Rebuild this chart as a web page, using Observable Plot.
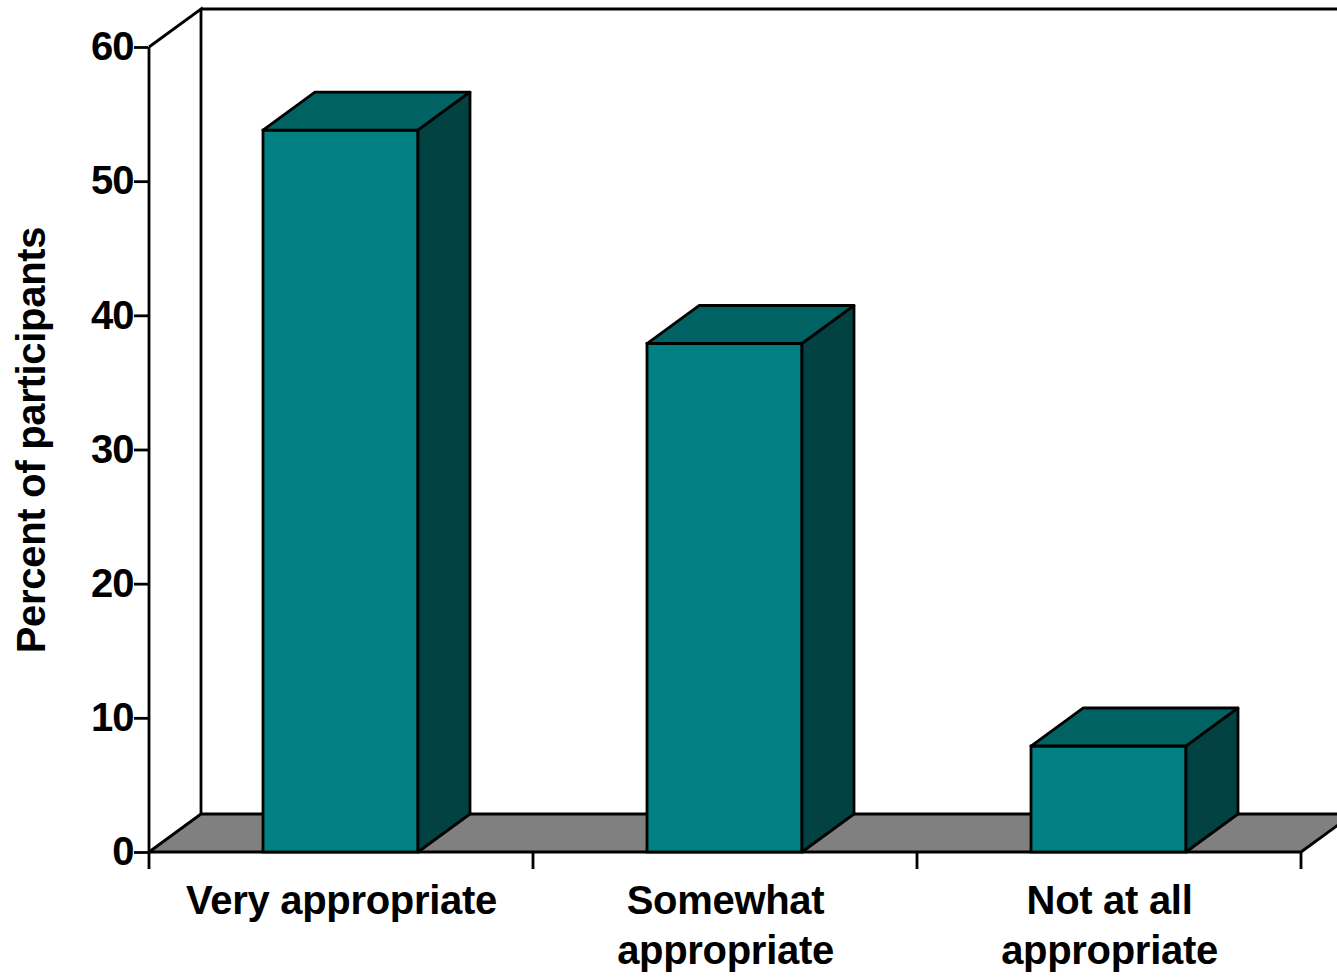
<!DOCTYPE html>
<html><head><meta charset="utf-8">
<script src="https://cdn.jsdelivr.net/npm/d3@7"></script>
<script src="https://cdn.jsdelivr.net/npm/@observablehq/plot@0.6"></script>
<style>
html,body{margin:0;padding:0;background:#fff;overflow:hidden;}
svg g[aria-label="y-axis tick label"] text{letter-spacing:-1px;}
svg g[aria-label="text"] text{letter-spacing:-0.3px;}
</style></head><body><div id="chart"></div>
<script>
const categories = ["Very appropriate", "Somewhat appropriate", "Not at all appropriate"];
const labels = ["Very appropriate", "Somewhat\nappropriate", "Not at all\nappropriate"];
const percents = [53.8, 37.9, 7.9];
const yTicks = [0, 10, 20, 30, 40, 50, 60];
const yTitle = ["Percent of participants"];

const data = categories.map((c, i) => ({category: c, label: labels[i], value: percents[i]}));

const DX = 52, DY = -38;
const INSET_L = 114, INSET_R = 115;
const FRONT = "#008080", TOP = "#006262", SIDE = "#024242", FLOOR = "#808080";
const SW = 2.8;

function bandInfo(x) {
  const bw = typeof x.bandwidth === "function" ? x.bandwidth() : (x(categories[1]) - x(categories[0]));
  const x0 = x(categories[0]);
  const x1 = x(categories[categories.length - 1]) + bw;
  return {bw, x0, x1};
}

function walls(index, scales) {
  const {x, y} = scales;
  const {bw, x0, x1} = bandInfo(x);
  const y0 = y(0), yT = y(60);
  const g = d3.create("svg:g");
  g.append("polygon")
    .attr("points", [[x0, y0], [x1, y0], [x1 + DX, y0 + DY], [x0 + DX, y0 + DY]].map(p => p.join(",")).join(" "))
    .attr("fill", FLOOR).attr("stroke", "black").attr("stroke-width", SW).attr("stroke-linejoin", "round");
  const p = d3.path();
  p.moveTo(x0, yT); p.lineTo(x0 + DX, yT + DY); p.lineTo(x0 + DX, y0 + DY);
  p.moveTo(x0 + DX, yT + DY); p.lineTo(x1 + DX + 300, yT + DY);
  p.moveTo(x0, yT); p.lineTo(x0, y0 + 17);
  for (let i = 1; i <= categories.length; i++) {
    const xx = x0 + i * bw;
    p.moveTo(xx, y0); p.lineTo(xx, y0 + 17);
  }
  g.append("path").attr("d", p.toString()).attr("fill", "none").attr("stroke", "black").attr("stroke-width", SW);
  return g.node();
}

function bars3d(index, scales) {
  const {x, y} = scales;
  const {bw} = bandInfo(x);
  const y0 = y(0);
  const g = d3.create("svg:g");
  for (const d of data) {
    const L = x(d.category) + INSET_L, R = x(d.category) + bw - INSET_R, T = y(d.value);
    g.append("polygon")
      .attr("points", [[L, T], [R, T], [R + DX, T + DY], [L + DX, T + DY]].map(p => p.join(",")).join(" "))
      .attr("fill", TOP).attr("stroke", "black").attr("stroke-width", SW).attr("stroke-linejoin", "round");
    g.append("polygon")
      .attr("points", [[R, T], [R + DX, T + DY], [R + DX, y0 + DY], [R, y0]].map(p => p.join(",")).join(" "))
      .attr("fill", SIDE).attr("stroke", "black").attr("stroke-width", SW).attr("stroke-linejoin", "round");
  }
  return g.node();
}

const chart = Plot.plot({
  width: 1337,
  height: 977,
  marginLeft: 148,
  marginRight: 35,
  marginTop: 47,
  marginBottom: 125,
  style: {fontFamily: "'Liberation Sans', Arial, sans-serif", background: "white", color: "black"},
  x: {type: "band", domain: categories, padding: 0, axis: null},
  y: {domain: [0, 60], axis: null},
  marks: [
    walls,
    Plot.barY(data, {x: "category", y: "value", fill: FRONT, stroke: "black", strokeWidth: SW, insetLeft: INSET_L, insetRight: INSET_R}),
    bars3d,
    Plot.axisY(yTicks, {tickSize: 14, tickPadding: 1, fontSize: 40, fontWeight: "bold", strokeWidth: SW, label: null, tickFormat: d => String(d)}),
    Plot.text(data, {x: "category", text: "label", frameAnchor: "bottom", lineAnchor: "top", dy: 26, fontSize: 40, fontWeight: "bold", lineHeight: 1.25, fill: "black"}),
    Plot.text(yTitle, {text: d => d, frameAnchor: "left", textAnchor: "middle", rotate: -90, dx: -116, dy: -10, fontSize: 40, fontWeight: "bold", fill: "black"})
  ]
});
document.getElementById("chart").appendChild(chart);
</script>
</body></html>
